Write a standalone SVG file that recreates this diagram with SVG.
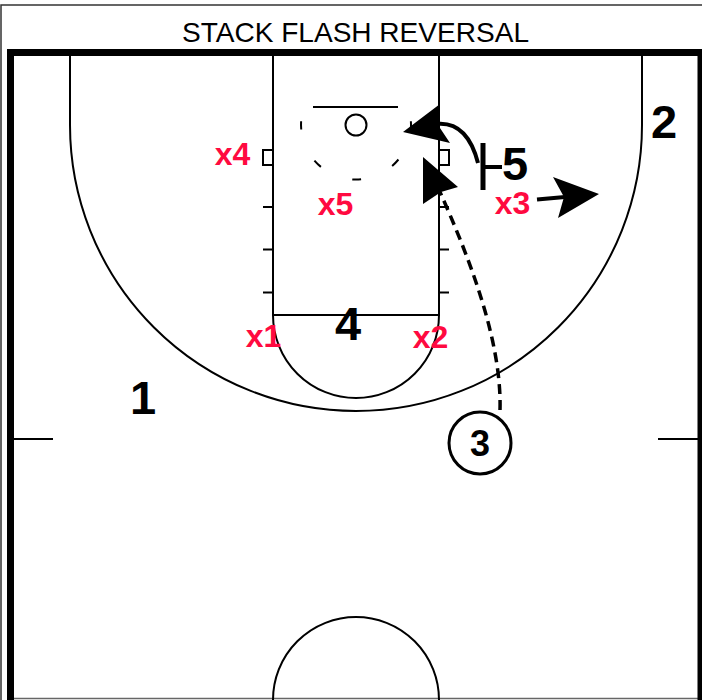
<svg xmlns="http://www.w3.org/2000/svg" width="702" height="700" viewBox="0 0 702 700">
<style>
.ln{fill:none;stroke:#000;stroke-width:2}
.thick{fill:none;stroke:#000;stroke-width:7}
.pl{font-family:"Liberation Sans",Arial,sans-serif;font-weight:bold;font-size:47px;fill:#000;text-anchor:middle}
.df{font-family:"Liberation Sans",Arial,sans-serif;font-weight:bold;font-size:32px;fill:#ff0a40;text-anchor:middle}
.title{font-family:"Liberation Sans",Arial,sans-serif;font-size:28px;fill:#000;text-anchor:middle}
.cut{fill:none;stroke:#000;stroke-width:4;stroke-linecap:butt}
.head{fill:#000;stroke:none}
</style>
<rect width="702" height="700" fill="#fff"/>
<g id="frame">
<path d="M1,705 V5 H710" fill="none" stroke="#333" stroke-width="1.5"/>
<line x1="14" y1="698.5" x2="702" y2="698.5" stroke="#666" stroke-width="1.5"/>
<text class="title" x="355.5" y="41.5" textLength="347" lengthAdjust="spacingAndGlyphs">STACK FLASH REVERSAL</text>
</g>
<g id="court">
<path class="thick" d="M10.5,710 V52.5 H701 V710"/>
<path class="ln" d="M273,56 V315 H439 V56"/>
<path class="ln" d="M273,315 A83,83 0 0 0 439,315"/>
<path class="ln" d="M70,56 V125 A286,286 0 0 0 642,125 V56"/>
<line class="ln" x1="313" y1="107" x2="398" y2="107"/>
<circle class="ln" cx="356" cy="125" r="10.5"/>
<path class="ln" d="M301.1,121.2 A55,55 0 1 0 410.9,121.2" stroke-dasharray="9 34.2" stroke-dashoffset="0.66"/>
<rect class="ln" x="263" y="150" width="10" height="15" stroke-width="1.5"/>
<rect class="ln" x="439" y="150" width="10" height="15" stroke-width="1.5"/>
<path class="ln" d="M263,207 H273 M263,249.5 H273 M263,292.5 H273 M439,207 H449 M439,249.5 H449 M439,292.5 H449"/>
<path class="ln" d="M14,439 H53 M658,439 H698"/>
<path class="ln" d="M273,700 A83,83 0 0 1 439,700"/>
</g>
<g id="connectors">
<path d="M500,410 C502,340 468,255 440,192" fill="none" stroke="#000" stroke-width="3.5" stroke-dasharray="10 6"/>
<polygon class="head" points="423,157 458,187 441,192 423,204"/>
<path class="cut" d="M478,163 C472,140 460,122 437,124"/>
<polygon class="head" points="403,132 440,104 438,125 450,143"/>
<line class="cut" x1="537" y1="199.5" x2="565" y2="197"/>
<polygon class="head" points="599,194 553,177 564,197 558,218"/>
<path d="M483,143 V190" stroke="#000" stroke-width="5"/>
<path d="M485,167 H502" stroke="#000" stroke-width="4"/>
</g>
<g id="p1"><text class="pl" x="143" y="414">1</text></g>
<g id="p2"><text class="pl" x="664" y="138">2</text></g>
<g id="p3"><circle cx="480" cy="443" r="31" fill="none" stroke="#000" stroke-width="3"/><text class="pl" x="480" y="456" style="font-size:36px">3</text></g>
<g id="p4"><text class="pl" x="348" y="340">4</text></g>
<g id="p5"><text class="pl" x="515" y="180">5</text></g>
<g id="x1"><text class="df" x="263.5" y="347">x1</text></g>
<g id="x2"><text class="df" x="430.5" y="348">x2</text></g>
<g id="x3"><text class="df" x="512.5" y="214">x3</text></g>
<g id="x4"><text class="df" x="232.5" y="165">x4</text></g>
<g id="x5"><text class="df" x="335.5" y="215">x5</text></g>
</svg>
